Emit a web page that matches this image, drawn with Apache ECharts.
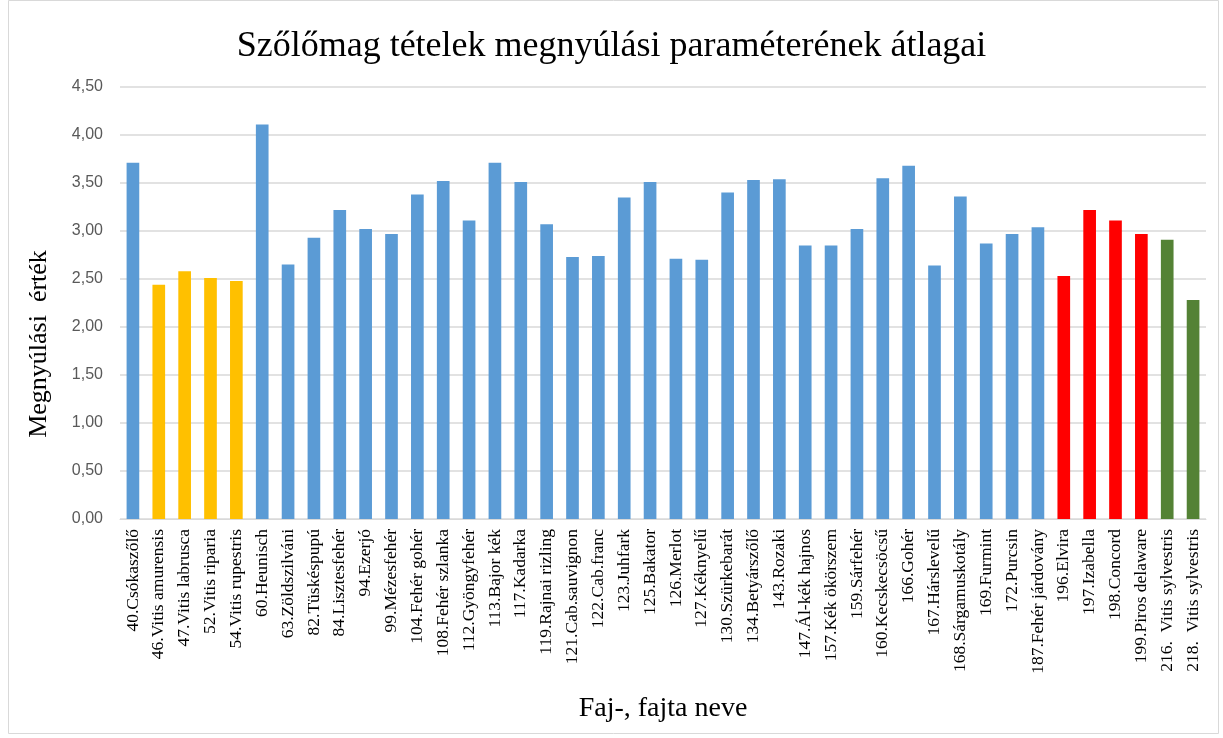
<!DOCTYPE html>
<html>
<head>
<meta charset="utf-8">
<script src="https://cdn.jsdelivr.net/npm/echarts@6/dist/echarts.min.js"></script>
<style>
  html, body { margin: 0; padding: 0; background: #fff; }
  #chart { width: 1223px; height: 738px; }
</style>
</head>
<body>
<div id="chart"></div>
<script>
const fajtak = [
  "40.Csókaszőlő", "46.Vitis amurensis", "47.Vitis labrusca", "52.Vitis riparia",
  "54.Vitis rupestris", "60.Heunisch", "63.Zöldszilváni", "82.Tüskéspupú",
  "84.Lisztesfehér", "94.Ezerjó", "99.Mézesfehér", "104.Fehér gohér",
  "108.Fehér szlanka", "112.Gyöngyfehér", "113.Bajor kék", "117.Kadarka",
  "119.Rajnai rizling", "121.Cab.sauvignon", "122.Cab.franc", "123.Juhfark",
  "125.Bakator", "126.Merlot", "127.Kéknyelű", "130.Szürkebarát",
  "134.Betyárszőlő", "143.Rozaki", "147.Ál-kék hajnos", "157.Kék ökörszem",
  "159.Sárfehér", "160.Kecskecsöcsű", "166.Gohér", "167.Hárslevelű",
  "168.Sárgamuskotály", "169.Furmint", "172.Purcsin", "187.Fehér járdovány",
  "196.Elvira", "197.Izabella", "198.Concord", "199.Piros delaware",
  "216.  Vitis sylvestris", "218.  Vitis sylvestris"
];

const atlagok = [
  3.71, 2.44, 2.58, 2.51, 2.48, 4.11, 2.65, 2.93, 3.22, 3.02, 2.97, 3.38,
  3.52, 3.11, 3.71, 3.51, 3.07, 2.73, 2.74, 3.35, 3.51, 2.71, 2.70, 3.40,
  3.53, 3.54, 2.85, 2.85, 3.02, 3.55, 3.68, 2.64, 3.36, 2.87, 2.97, 3.04,
  2.53, 3.22, 3.11, 2.97, 2.91, 2.28
];

// csoport: v = vadfaj, e = európai fajta, h = hibrid, s = sylvestris
const csoportok = [
  "e", "v", "v", "v", "v", "e", "e", "e", "e", "e", "e", "e",
  "e", "e", "e", "e", "e", "e", "e", "e", "e", "e", "e", "e",
  "e", "e", "e", "e", "e", "e", "e", "e", "e", "e", "e", "e",
  "h", "h", "h", "h", "s", "s"
];

const yMin = 0, yMax = 4.5, yStep = 0.5;

const szinek = { e: "#5B9BD5", v: "#FFC000", h: "#FF0000", s: "#548235" };

const chart = echarts.init(document.getElementById("chart"));

const option = {
  animation: false,
  backgroundColor: "#fff",
  title: {
    text: "Szőlőmag tételek megnyúlási paraméterének átlagai",
    left: "center",
    top: 24,
    textStyle: {
      fontFamily: "Liberation Serif",
      fontSize: 36,
      fontWeight: "normal",
      color: "#000"
    }
  },
  graphic: [
    {
      type: "rect",
      shape: { x: 8.5, y: 0.5, width: 1210, height: 733 },
      style: { fill: null, stroke: "#D9D9D9", lineWidth: 1 },
      silent: true
    },
    {
      // y tengely neve (Excelben lejjebb ül, mint a tengely közepe)
      type: "text",
      x: 39,
      y: 344,
      rotation: Math.PI / 2,
      style: {
        text: "Megnyúlási  érték",
        fontFamily: "Liberation Serif",
        fontSize: 26,
        fill: "#000",
        align: "center",
        verticalAlign: "middle"
      },
      silent: true
    }
  ],
  grid: { left: 120, right: 17, top: 87, bottom: 219 },
  xAxis: {
    type: "category",
    data: fajtak,
    name: "Faj-, fajta neve",
    nameLocation: "middle",
    nameGap: 176,
    nameTextStyle: { fontFamily: "Liberation Serif", fontSize: 28, color: "#000" },
    axisLine: { lineStyle: { color: "#D9D9D9", width: 1 } },
    axisTick: { show: false },
    axisLabel: {
      rotate: 90,
      interval: 0,
      margin: 10,
      fontFamily: "Liberation Serif",
      fontSize: 17.5,
      color: "#000"
    }
  },
  yAxis: {
    type: "value",
    min: yMin,
    max: yMax,
    interval: yStep,
    axisLine: { show: false },
    axisTick: { show: false },
    axisLabel: {
      margin: 17,
      fontFamily: "Liberation Sans",
      fontSize: 16,
      color: "#595959",
      formatter: (v) => v.toFixed(2).replace(".", ",")
    },
    splitLine: { lineStyle: { color: "#D9D9D9", width: 1.5 } }
  },
  series: [{
    type: "bar",
    barWidth: "49%",
    data: atlagok.map((v, i) => ({
      value: v,
      itemStyle: { color: szinek[csoportok[i]] }
    }))
  }]
};

chart.setOption(option);
</script>
</body>
</html>
